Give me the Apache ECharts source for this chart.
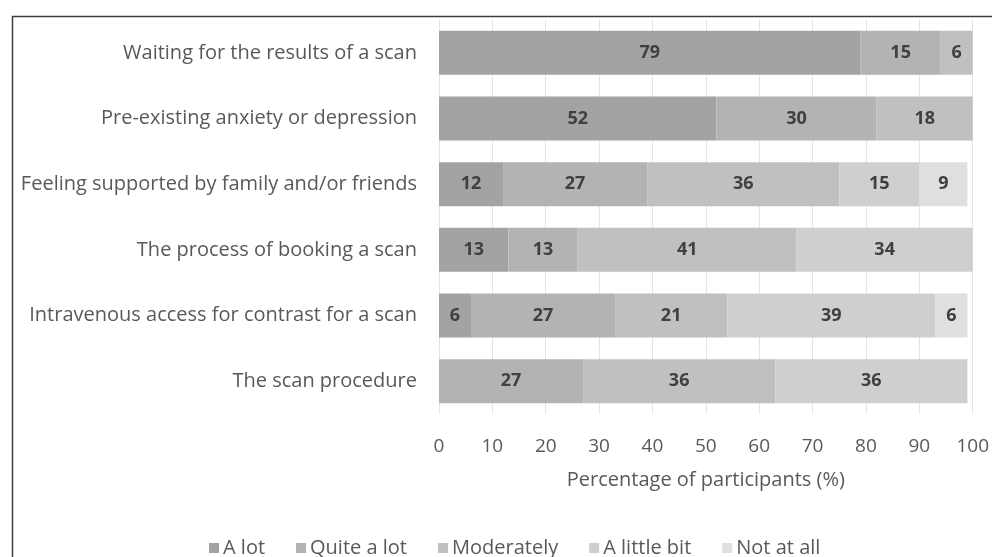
<!DOCTYPE html>
<html>
<head>
<meta charset="utf-8">
<script src="https://cdn.jsdelivr.net/npm/echarts@6/dist/echarts.min.js"></script>
<style>
  html, body { margin: 0; padding: 0; background: #ffffff; }
  #chart { width: 992px; height: 557px; }
</style>
</head>
<body>
<div id="chart"></div>
<script>
// Survey items, listed top to bottom
const categories = [
  'Waiting for the results of a scan',
  'Pre-existing anxiety or depression',
  'Feeling supported by family and/or friends',
  'The process of booking a scan',
  'Intravenous access for contrast for a scan',
  'The scan procedure'
];

// Percentage of participants per response level
const aLot       = [79, 52, 12, 13, 6, 0];
const quiteALot  = [15, 30, 27, 13, 27, 27];
const moderately = [6, 18, 36, 41, 21, 36];
const aLittleBit = [0, 0, 15, 34, 39, 36];
const notAtAll   = [0, 0, 9, 0, 6, 0];

const seriesNames = ['A lot', 'Quite a lot', 'Moderately', 'A little bit', 'Not at all'];
const seriesValues = [aLot, quiteALot, moderately, aLittleBit, notAtAll];
const seriesColors = ['#a3a3a3', '#b3b3b3', '#c0c0c0', '#cfcfcf', '#dfdfdf'];

const xTicks = { min: 0, max: 100, step: 10 };

const FONT = '"Open Sans", Lato, sans-serif';

const chart = echarts.init(document.getElementById('chart'), null, { renderer: 'canvas' });

chart.setOption({
  animation: false,
  backgroundColor: '#ffffff',
  textStyle: { fontFamily: FONT },
  graphic: [{
    type: 'rect',
    left: 10, top: 14,
    shape: { width: 1100, height: 700 },
    style: { fill: 'none', stroke: '#3c3c3c', lineWidth: 1.5 },
    silent: true,
    z: 100
  }],
  grid: { left: 439, right: 18, top: 20, bottom: 143, containLabel: false },
  legend: {
    left: 204,
    top: 533,
    itemWidth: 10,
    itemHeight: 10,
    itemGap: 31,
    icon: 'rect',
    textStyle: { color: '#595959', fontSize: 20, fontFamily: FONT, padding: [0, 0, 0, -1] },
    data: seriesNames
  },
  xAxis: {
    type: 'value',
    min: xTicks.min,
    max: xTicks.max,
    interval: xTicks.step,
    name: 'Percentage of participants (%)',
    nameLocation: 'middle',
    nameGap: 56,
    nameTextStyle: { color: '#595959', fontSize: 20, fontFamily: FONT },
    axisLine: { show: false },
    axisTick: { show: false },
    axisLabel: { color: '#595959', fontSize: 19, margin: 23, fontFamily: FONT },
    splitLine: { show: true, lineStyle: { color: '#e4e4e4', width: 1 } }
  },
  yAxis: {
    type: 'category',
    inverse: true,
    data: categories,
    axisLine: { show: false },
    axisTick: { show: false },
    axisLabel: { color: '#595959', fontSize: 20, margin: 22, fontFamily: FONT }
  },
  series: seriesNames.map((name, i) => ({
    name,
    type: 'bar',
    stack: 'total',
    barWidth: 44,
    data: seriesValues[i],
    itemStyle: { color: seriesColors[i] },
    label: {
      show: true,
      position: 'inside',
      color: '#404040',
      fontWeight: 'bold',
      fontSize: 18,
      fontFamily: FONT,
      formatter: p => (p.value > 0 ? String(p.value) : '')
    }
  }))
});
</script>
</body>
</html>
